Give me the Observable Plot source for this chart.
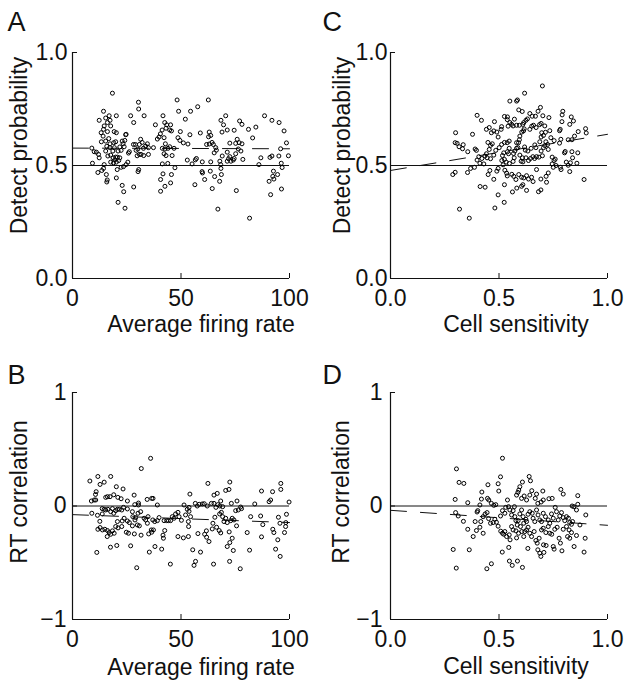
<!DOCTYPE html>
<html><head><meta charset="utf-8">
<script src="https://cdn.jsdelivr.net/npm/d3@7"></script>
<script src="https://cdn.jsdelivr.net/npm/@observablehq/plot@0.6"></script>
<style>
body{margin:0;background:#fff;overflow:hidden}
#wrap{position:relative;width:629px;height:685px}
#wrap svg{position:absolute}
</style></head><body><div id="wrap"></div>
<script>
// ---- Panel A: average firing rate vs detect probability [rate, DP]
const pointsA = [[18.4,.82],[30.4,.78],[48.2,.79],[62.6,.79],[30.5,.75],[57.7,.76],[54.4,.74],[48.9,.74],[14.3,.74],[26.8,.72],[20.2,.72],[33,.72],[41.7,.72],[70.6,.72],[88.5,.72],[91.9,.70],[95.2,.69],[12.3,.70],[15.3,.71],[16.9,.72],[17.3,.70],[16.1,.69],[17.6,.675],[14.6,.675],[13.2,.645],[14.3,.66],[16.1,.65],[19.2,.65],[20.2,.645],[24.5,.636],[28.2,.69],[42.5,.69],[43.4,.68],[45.2,.68],[43.1,.665],[44.8,.657],[45.6,.653],[41.3,.657],[40.5,.64],[39.9,.626],[39.1,.617],[42.2,.623],[38.2,.68],[52,.705],[49.7,.65],[48.6,.623],[49.5,.611],[51.1,.60],[53.2,.595],[54.1,.636],[58.9,.644],[63,.648],[63.7,.633],[62.7,.627],[68.4,.70],[69.6,.68],[68.9,.648],[71.3,.657],[74.5,.656],[77,.697],[78.1,.682],[81.1,.66],[84.5,.67],[83,.622],[97.5,.653],[98.6,.60],[99.5,.543],[95.9,.574],[95.1,.542],[91.9,.542],[91,.536],[86.8,.534],[85.9,.504],[96.2,.51],[96.6,.491],[92.6,.475],[92.3,.452],[92.8,.44],[90.6,.43],[94.5,.46],[91.3,.371],[96.3,.396],[81.6,.267],[75.5,.389],[78.5,.527],[74.5,.531],[74.1,.524],[73,.519],[71.3,.519],[71.9,.53],[72.5,.539],[69,.542],[67.9,.519],[68.3,.504],[68.4,.487],[68.6,.46],[67.8,.43],[67,.307],[64.4,.398],[65.5,.451],[63.5,.475],[63.7,.516],[59.8,.516],[59.7,.473],[59.9,.467],[60.9,.438],[56.4,.415],[57.1,.531],[56.6,.525],[52.9,.524],[55.1,.507],[63,.595],[61.8,.593],[64.3,.602],[66,.579],[66.3,.568],[64.9,.593],[65.3,.556],[71.3,.559],[72.5,.599],[75.2,.598],[75.9,.616],[76.8,.601],[76.4,.573],[75.2,.552],[78.1,.596],[77.6,.564],[46.8,.576],[44.8,.583],[42.8,.596],[44,.576],[42.6,.573],[41.4,.576],[42.2,.552],[43.1,.544],[45.9,.544],[43.9,.509],[41.4,.507],[41.7,.463],[40.6,.438],[42.6,.408],[40.6,.386],[45.2,.423],[45.6,.46],[47.2,.49],[37.3,.579],[35,.579],[34.5,.596],[33.7,.586],[32.7,.576],[31.4,.616],[32.1,.602],[30.8,.593],[29,.593],[30.1,.573],[29.3,.567],[30.8,.549],[31.6,.549],[35,.549],[32.8,.544],[29.8,.543],[28.1,.593],[30.5,.482],[30.2,.473],[28.2,.405],[23.8,.583],[23.3,.596],[24.1,.611],[24.7,.638],[22.9,.608],[21.8,.582],[22.4,.567],[21,.564],[19.9,.605],[19,.601],[19.3,.579],[18.6,.564],[17.6,.546],[18.7,.534],[19.9,.537],[20.7,.537],[21.8,.534],[19.5,.525],[21.3,.522],[17.2,.579],[17.3,.596],[16.7,.619],[15.3,.608],[14.1,.63],[13.3,.605],[15.8,.585],[16.3,.542],[17.6,.515],[18.9,.512],[20.2,.515],[25.5,.515],[24.7,.504],[23.5,.495],[22.4,.492],[20.6,.482],[20.2,.445],[14.6,.504],[14.3,.487],[13.5,.478],[11.7,.469],[15.6,.46],[16,.436],[15.8,.427],[22.9,.412],[23.6,.384],[21,.337],[24.2,.311],[26.2,.561],[25.8,.555],[8.9,.577],[10,.561],[11,.559],[9.2,.51],[15.3,.564],[12,.549],[12.3,.534]];

// ---- Panel B: average firing rate vs RT correlation [rate, r]
const pointsB = [[36,.42],[31.7,.33],[8,.22],[11.7,.26],[12.7,.19],[14.6,.21],[17.6,.26],[20.2,.17],[23.3,.15],[10.9,.126],[10.6,.102],[8.7,.044],[10,.053],[10.7,.053],[15.3,.076],[16.1,.082],[17.3,.082],[19,.099],[20.9,.076],[22.4,.064],[25.3,.044],[28.4,.096],[28.7,.012],[30.4,.009],[30.4,.026],[34.4,.058],[36.5,.067],[37.1,.067],[39.1,.009],[8.9,-.064],[11.5,-.082],[13.7,-.07],[13.7,-.023],[14.6,-.029],[15.3,-.035],[16.3,-.029],[17.6,-.05],[18.4,-.023],[19,-.064],[19.9,-.041],[20.7,-.029],[21.6,-.029],[22.7,-.035],[23.5,-.012],[25.3,-.026],[27.6,-.05],[27.8,-.094],[29.1,-.102],[30.2,-.064],[31.4,-.05],[33,-.108],[34.8,-.094],[37,-.123],[12.6,-.135],[11.7,-.205],[12.7,-.19],[13.8,-.211],[14.9,-.205],[16.1,-.216],[16.9,-.234],[16,-.269],[17.6,-.249],[18.4,-.219],[19.2,-.24],[19.9,-.181],[21,-.193],[20.7,-.137],[22.9,-.132],[22.7,-.181],[23.8,-.108],[25.3,-.132],[24.8,-.231],[25.8,-.24],[26.2,-.146],[27.6,-.175],[28.8,-.123],[28.5,-.246],[29.9,-.167],[30.8,-.175],[31.6,-.257],[33.7,-.123],[34.5,-.152],[35.1,-.246],[36.3,-.211],[36.5,-.231],[37.3,-.211],[37.9,-.137],[39.1,-.129],[39.9,-.102],[38,-.357],[35.4,-.406],[41.1,-.38],[41.9,-.284],[41.7,-.257],[42.5,-.216],[42.2,-.129],[43.4,-.129],[44.2,-.129],[45.2,-.129],[46,-.094],[46.8,-.108],[47.5,-.07],[48.6,-.056],[49.1,-.094],[50.2,-.126],[51.4,.009],[52.9,-.029],[53.7,-.047],[54.1,.105],[53.7,-.012],[52.1,-.079],[53.4,-.137],[53.5,-.181],[54.4,-.094],[45.1,-.512],[56.7,-.488],[56,-.523],[29.6,-.544],[26.8,-.351],[11.2,-.409],[17.5,-.363],[20.4,-.348],[48.6,-.269],[51.1,-.281],[53.4,-.269],[55.4,-.386],[59,-.406],[57.8,-.243],[60.9,-.249],[61.7,-.219],[61.8,-.275],[62.9,-.313],[64.4,-.202],[64.7,-.152],[65.6,-.099],[66.4,-.187],[67.6,-.216],[68.3,-.237],[67.8,-.07],[68.6,-.056],[69.2,-.094],[69.8,-.137],[70.6,-.108],[71.3,-.146],[72.2,-.228],[72.9,-.129],[73.6,-.108],[74.4,-.123],[75.2,-.041],[76.4,-.035],[77.5,-.009],[77.9,-.023],[73.6,-.284],[72.5,-.322],[71.3,-.357],[74.1,-.392],[75.6,-.175],[62.4,.199],[65.2,.096],[66.7,.111],[68.3,.044],[69.2,-.006],[70.6,.137],[72.1,.146],[72.5,.211],[73.2,.023],[75.8,.044],[56.6,.023],[57.5,0],[58.4,.015],[59.8,.018],[60.7,.02],[62.1,0],[64,.023],[65.2,.023],[66.1,-.012],[67,.012],[67.9,0],[65,-.512],[72.4,-.488],[77.3,-.553],[81.6,-.389],[80.5,-.234],[82.1,-.094],[84,.018],[87.1,.132],[86.7,-.088],[87.7,-.164],[87.1,-.272],[90.6,.038],[91.3,.053],[92.2,.126],[92.3,-.205],[92.8,-.234],[94.6,-.298],[93.6,-.38],[95.7,-.444],[96,.199],[96,.146],[94.9,-.099],[95.6,-.152],[97.7,-.234],[98.2,-.181],[98.3,-.146],[98.6,-.073],[99.8,.035]];

// ---- Panel C: cell sensitivity vs detect probability [sens, DP]
const pointsC = [[.70,.852],[.618,.82],[.55,.785],[.581,.785],[.585,.79],[.591,.746],[.607,.739],[.399,.722],[.419,.70],[.479,.694],[.525,.717],[.539,.715],[.55,.69],[.542,.674],[.571,.705],[.538,.703],[.642,.73],[.653,.718],[.691,.757],[.68,.74],[.668,.718],[.702,.72],[.73,.712],[.794,.74],[.791,.724],[.833,.715],[.843,.697],[.826,.682],[.79,.694],[.782,.66],[.779,.654],[.30,.645],[.378,.638],[.442,.66],[.455,.668],[.465,.645],[.476,.653],[.49,.648],[.496,.626],[.51,.66],[.512,.672],[.558,.682],[.565,.675],[.581,.678],[.594,.678],[.624,.70],[.614,.69],[.61,.682],[.631,.706],[.605,.648],[.613,.653],[.616,.662],[.642,.66],[.651,.674],[.659,.678],[.671,.668],[.687,.681],[.694,.686],[.711,.675],[.697,.645],[.714,.647],[.734,.654],[.705,.633],[.694,.626],[.688,.605],[.739,.623],[.754,.61],[.785,.616],[.779,.599],[.819,.614],[.836,.614],[.865,.65],[.899,.663],[.902,.644],[.848,.63],[.805,.562],[.836,.561],[.863,.556],[.839,.534],[.298,.601],[.307,.598],[.316,.583],[.332,.574],[.335,.592],[.356,.561],[.39,.573],[.396,.567],[.407,.539],[.399,.524],[.412,.51],[.421,.531],[.435,.542],[.442,.552],[.455,.571],[.445,.534],[.461,.53],[.476,.546],[.485,.567],[.469,.596],[.449,.602],[.461,.589],[.512,.593],[.501,.579],[.525,.602],[.538,.601],[.547,.608],[.547,.576],[.539,.561],[.544,.552],[.522,.556],[.516,.544],[.513,.522],[.525,.527],[.533,.515],[.548,.509],[.519,.503],[.565,.518],[.57,.534],[.567,.553],[.573,.564],[.581,.576],[.581,.601],[.59,.601],[.594,.614],[.596,.63],[.587,.579],[.596,.546],[.608,.534],[.61,.516],[.602,.519],[.624,.534],[.636,.522],[.645,.531],[.656,.539],[.664,.531],[.673,.539],[.684,.537],[.70,.543],[.694,.564],[.705,.579],[.711,.588],[.716,.605],[.724,.593],[.727,.571],[.67,.579],[.665,.591],[.648,.576],[.633,.564],[.621,.568],[.618,.582],[.745,.537],[.754,.522],[.759,.528],[.745,.507],[.763,.50],[.786,.482],[.802,.556],[.81,.515],[.819,.501],[.829,.512],[.826,.473],[.859,.51],[.287,.46],[.298,.47],[.355,.469],[.369,.487],[.387,.492],[.43,.507],[.458,.478],[.49,.475],[.496,.487],[.527,.479],[.535,.466],[.538,.454],[.559,.461],[.568,.452],[.578,.438],[.591,.46],[.604,.448],[.614,.445],[.627,.455],[.636,.44],[.65,.448],[.657,.429],[.673,.482],[.693,.44],[.717,.452],[.727,.467],[.75,.492],[.783,.492],[.45,.46],[.476,.439],[.413,.407],[.436,.404],[.525,.415],[.496,.37],[.562,.383],[.582,.40],[.604,.408],[.61,.415],[.627,.39],[.682,.384],[.693,.392],[.719,.426],[.481,.312],[.524,.337],[.318,.307],[.363,.267],[.892,.438]];

// ---- Panel D: cell sensitivity vs RT correlation [sens, r]
const pointsD = [[.516,.421],[.304,.327],[.316,.208],[.338,.199],[.298,.058],[.356,.029],[.507,.257],[.496,.196],[.499,.132],[.449,.187],[.421,.123],[.419,.061],[.412,.009],[.447,.067],[.453,.053],[.465,.023],[.476,.006],[.485,.012],[.639,.26],[.645,.222],[.608,.211],[.596,.17],[.591,.14],[.587,.12],[.581,.096],[.604,.067],[.616,.088],[.627,.053],[.642,.096],[.651,.135],[.673,.105],[.702,.132],[.667,.067],[.679,.023],[.694,.035],[.704,.053],[.73,.064],[.745,.067],[.785,.146],[.796,.105],[.863,.091],[.863,.015],[.837,0],[.30,-.058],[.312,-.088],[.336,-.135],[.356,-.205],[.381,-.269],[.396,-.216],[.412,-.187],[.416,-.137],[.427,-.094],[.436,-.07],[.445,-.058],[.452,-.111],[.427,-.24],[.402,-.041],[.399,-.053],[.39,-.137],[.461,-.152],[.473,-.146],[.481,-.117],[.488,-.143],[.496,-.178],[.507,-.088],[.516,-.041],[.527,-.064],[.531,-.012],[.539,.053],[.544,-.006],[.55,-.035],[.558,-.079],[.565,-.041],[.571,-.006],[.573,-.094],[.578,-.129],[.584,-.167],[.588,-.129],[.596,-.07],[.604,-.035],[.611,-.094],[.614,-.152],[.624,-.117],[.627,-.137],[.634,-.073],[.642,-.05],[.653,-.064],[.657,-.108],[.665,-.137],[.673,-.035],[.68,-.079],[.688,-.123],[.696,-.137],[.704,-.064],[.714,-.094],[.727,-.123],[.734,-.152],[.742,-.07],[.75,-.108],[.759,-.012],[.765,-.05],[.773,-.123],[.78,-.088],[.788,-.058],[.796,-.102],[.803,-.129],[.811,-.094],[.82,-.108],[.826,-.146],[.834,-.161],[.839,-.137],[.845,-.006],[.857,-.035],[.508,-.222],[.516,-.24],[.522,-.249],[.527,-.225],[.535,-.269],[.547,-.254],[.551,-.298],[.558,-.181],[.565,-.211],[.578,-.219],[.581,-.281],[.59,-.24],[.599,-.181],[.605,-.225],[.614,-.269],[.619,-.225],[.627,-.211],[.634,-.187],[.642,-.24],[.65,-.269],[.662,-.225],[.67,-.304],[.676,-.327],[.685,-.284],[.696,-.211],[.704,-.196],[.716,-.234],[.727,-.181],[.734,-.24],[.743,-.249],[.757,-.205],[.768,-.187],[.777,-.284],[.783,-.327],[.796,-.205],[.811,-.181],[.816,-.269],[.823,-.211],[.826,-.284],[.834,-.234],[.846,-.357],[.857,-.26],[.873,-.167],[.897,-.284],[.90,-.079],[.892,-.406],[.289,-.383],[.363,-.386],[.303,-.547],[.444,-.553],[.465,-.509],[.548,-.485],[.561,-.523],[.585,-.485],[.608,-.541],[.515,-.406],[.545,-.365],[.633,-.374],[.679,-.386],[.693,-.444],[.688,-.415],[.707,-.409],[.705,-.342],[.717,-.348],[.75,-.357],[.754,-.38],[.79,-.395]];

// ---- Regression fits [intercept, slope]
const fitA = [0.577, -0.00003];
const fitB = [-0.076, -0.0007];
const fitC = [0.478, 0.16];
const fitD = [-0.038, -0.132];

// ---- Axes
const rateTicks = [0, 50, 100];
const sensTicks = [0, 0.5, 1];
const dpTicks = [0, 0.5, 1];
const rtTicks = [-1, 0, 1];
const rateLabel = "Average firing rate";
const sensLabel = "Cell sensitivity";
const dpLabel = "Detect probability";
const rtLabel = "RT correlation";
const letters = ["A", "B", "C", "D"];

const FONT = "'Liberation Sans', Arial, Helvetica, sans-serif";
const W = 311, H = 340, ML = 72, MR = 22, MT = 52;

function panel(o) {
  const mb = o.mb;
  const fw = W - ML - MR, fh = H - MT - mb;
  const fitPts = o.xDomain.map(x => ({x, y: o.fit[0] + o.fit[1] * x}));
  const svg = Plot.plot({
    width: W, height: H, marginLeft: ML, marginRight: MR, marginTop: MT, marginBottom: mb,
    x: {domain: o.xDomain},
    y: {domain: o.yDomain},
    style: {fontFamily: FONT, fontSize: "23px", color: "#111", background: "transparent", overflow: "visible"},
    marks: [
      Plot.ruleY([o.ref], {stroke: "#111", strokeWidth: 1}),
      Plot.line(fitPts, {x: "x", y: "y", stroke: "#111", strokeWidth: 1, strokeDasharray: "16,14"}),
      Plot.dot(o.points, {x: d => d[0], y: d => d[1], r: 2, stroke: "#000", strokeWidth: 1, fill: "none"}),
      Plot.ruleX([o.xDomain[0]], {stroke: "#111", strokeWidth: 1.2}),
      Plot.ruleY([o.yDomain[0]], {stroke: "#111", strokeWidth: 1.2}),
      Plot.tickX(o.xTicks, {x: d => d, insetTop: fh - 5, stroke: "#111"}),
      Plot.tickY(o.yTicks, {y: d => d, insetRight: fw - 5, stroke: "#111"}),
      Plot.axisX({ticks: o.xTicks, tickSize: 0, tickPadding: 11, tickFormat: o.xFmt, label: null}),
      Plot.axisY({ticks: o.yTicks, tickSize: 0, tickPadding: o.yPad, tickFormat: o.yFmt, label: null}),
      Plot.text([o.xLabel], {text: d => d, frameAnchor: "bottom", lineAnchor: "middle", dx: o.xlx, dy: o.xly, fontSize: 23}),
      Plot.text([o.yLabel], {text: d => d, frameAnchor: "left", rotate: -90, lineAnchor: "middle", textAnchor: "middle", dx: o.ylx, dy: o.yly, fontSize: 23}),
      Plot.text([o.letter], {text: d => d, frameAnchor: "top-left", textAnchor: "start", lineAnchor: "top", dx: o.lx, dy: o.ly, fontSize: 27})
    ]
  });
  svg.style.left = o.left + "px";
  svg.style.top = o.top + "px";
  document.getElementById("wrap").appendChild(svg);
}

const fmt1 = d3.format(".1f");
const fmt0 = d3.format("d");

panel({left: 0, top: 0, mb: 62, points: pointsA, fit: fitA, ref: 0.5,
  xDomain: [0, 100], yDomain: [0, 1], xTicks: rateTicks, yTicks: dpTicks, xFmt: fmt0, yFmt: fmt1, yPad: 5,
  xLabel: rateLabel, yLabel: dpLabel, letter: letters[0],
  xlx: 20, xly: 46, ylx: -53, yly: -20, lx: -65, ly: -41});
panel({left: 0, top: 340, mb: 61, points: pointsB, fit: fitB, ref: 0,
  xDomain: [0, 100], yDomain: [-1, 1], xTicks: rateTicks, yTicks: rtTicks, xFmt: fmt0, yFmt: fmt0, yPad: 6,
  xLabel: rateLabel, yLabel: rtLabel, letter: letters[1],
  xlx: 20, xly: 48, ylx: -53, yly: -14, lx: -65, ly: -28});
panel({left: 318, top: 0, mb: 62, points: pointsC, fit: fitC, ref: 0.5,
  xDomain: [0, 1], yDomain: [0, 1], xTicks: sensTicks, yTicks: dpTicks, xFmt: fmt1, yFmt: fmt1, yPad: 3,
  xLabel: sensLabel, yLabel: dpLabel, letter: letters[2],
  xlx: 17, xly: 46, ylx: -48, yly: -20, lx: -68, ly: -41});
panel({left: 318, top: 340, mb: 61, points: pointsD, fit: fitD, ref: 0,
  xDomain: [0, 1], yDomain: [-1, 1], xTicks: sensTicks, yTicks: rtTicks, xFmt: fmt1, yFmt: fmt0, yPad: 8,
  xLabel: sensLabel, yLabel: rtLabel, letter: letters[3],
  xlx: 17, xly: 47, ylx: -49, yly: -14, lx: -68, ly: -28});
</script>
</body></html>
